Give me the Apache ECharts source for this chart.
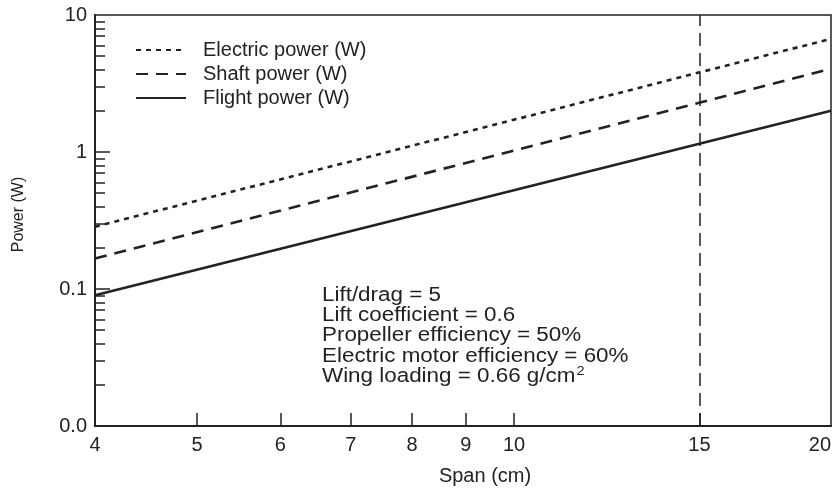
<!DOCTYPE html>
<html>
<head>
<meta charset="utf-8">
<script src="https://cdn.jsdelivr.net/npm/echarts@6/dist/echarts.min.js"></script>
<style>html,body{margin:0;padding:0;background:#fff}#c{width:839px;height:491px}</style>
</head>
<body>
<div id="c"></div>
<script>
const spans = [4, 20];
const electricPower = [0.285, 6.7];
const shaftPower = [0.167, 4.05];
const flightPower = [0.09, 2.0];
const xTickValues = [4, 5, 6, 7, 8, 9, 10, 15, 20];
const yTickValues = [0.01, 0.1, 1, 10];
const yMinorValues = [0.02,0.03,0.04,0.05,0.06,0.07,0.08,0.09,0.2,0.3,0.4,0.5,0.6,0.7,0.8,0.9,2,3,4,5,6,7,8,9];
const markerSpan = 15;
const notes = ['Lift/drag = 5', 'Lift coefficient = 0.6', 'Propeller efficiency = 50%', 'Electric motor efficiency = 60%'];
const lastNote = ['Wing loading = 0.66 g/cm', '2'];

const FONT = "'Liberation Sans', Arial, Helvetica, sans-serif";
const INK = '#222';

function pairs(ys) { return spans.map((x, i) => [x, ys[i]]); }

const chart = echarts.init(document.getElementById('c'), null, {renderer: 'canvas'});
const option = {
  backgroundColor: '#fff',
  animation: false,
  textStyle: {fontFamily: FONT, color: INK},
  grid: {left: 95, right: 8, top: 15, bottom: 63, show: true, borderColor: INK, borderWidth: 1.5, backgroundColor: 'transparent'},
  legend: {
    orient: 'vertical', left: 130, top: 35,
    itemWidth: 50, itemHeight: 14, itemGap: 4,
    itemStyle: {opacity: 0, borderWidth: 0},
    textStyle: {fontSize: 20, fontFamily: FONT, color: INK, lineHeight: 20, padding: [0, 0, 0, 12]},
    data: ['Electric power (W)', 'Shaft power (W)', 'Flight power (W)']
  },
  xAxis: {
    type: 'log', min: 4, max: 20, logBase: 10,
    name: 'Span (cm)', nameLocation: 'middle', nameGap: 40,
    nameTextStyle: {fontSize: 20, fontFamily: FONT, color: INK, padding: [0, 0, 0, 44]},
    axisLine: {show: true, lineStyle: {color: INK, width: 2}},
    axisTick: {show: true, inside: true, length: 13, customValues: xTickValues.slice(1, -1), lineStyle: {color: INK, width: 1.5}},
    axisLabel: {show: true, customValues: xTickValues, fontSize: 20, fontFamily: FONT, color: INK, margin: 9, alignMaxLabel: 'right', formatter: v => String(Math.round(v))},
    splitLine: {show: false},
    minorTick: {show: false}
  },
  yAxis: [{
    type: 'log', min: 0.01, max: 10, logBase: 10,
    name: 'Power (W)', nameLocation: 'middle', nameGap: 68,
    nameTextStyle: {fontSize: 16, fontFamily: FONT, color: INK, padding: [0, 0, 0, 12]},
    axisLine: {show: true, lineStyle: {color: INK, width: 2}},
    axisTick: {show: true, inside: true, length: 15, customValues: yTickValues.slice(1, 3), lineStyle: {color: INK, width: 1.5}},
    axisLabel: {show: true, customValues: yTickValues, fontSize: 20, fontFamily: FONT, color: INK, margin: 8,
      formatter: v => v < 0.05 ? '0.0' : (v < 0.5 ? '0.1' : String(Math.round(v)))},
    splitLine: {show: false}
  }, {
    type: 'log', min: 0.01, max: 10, logBase: 10, position: 'left',
    axisLine: {show: false},
    axisTick: {show: true, inside: true, length: 10, customValues: yMinorValues, lineStyle: {color: INK, width: 1.5}},
    axisLabel: {show: false},
    splitLine: {show: false}
  }],
  series: [{
    name: 'Electric power (W)', type: 'line', data: pairs(electricPower), showSymbol: false, symbol: 'none',
    lineStyle: {color: INK, width: 2.6, type: [5, 5]}, itemStyle: {color: INK}
  }, {
    name: 'Shaft power (W)', type: 'line', data: pairs(shaftPower), showSymbol: false, symbol: 'none',
    lineStyle: {color: INK, width: 2.6, type: [12, 8]}, itemStyle: {color: INK}
  }, {
    name: 'Flight power (W)', type: 'line', data: pairs(flightPower), showSymbol: false, symbol: 'none',
    lineStyle: {color: INK, width: 2.6, type: 'solid'}, itemStyle: {color: INK},
    markLine: {
      silent: true, symbol: 'none', label: {show: false},
      lineStyle: {color: INK, width: 1.5, type: [13, 7]},
      data: [{xAxis: markerSpan}]
    }
  }],
  graphic: [{
    type: 'text', left: 322, top: 285, scaleX: 1.12,
    style: {
      text: notes.join('\n') + '\n{m|' + lastNote[0] + '}{s|' + lastNote[1] + '}',
      font: '20px ' + FONT, fill: INK, lineHeight: 20.3,
      rich: {
        m: {fontSize: 20, fontFamily: FONT, fill: INK, color: INK, lineHeight: 20.3},
        s: {fontSize: 13, fontFamily: FONT, fill: INK, color: INK, lineHeight: 20.3, padding: [0, 0, 10, 1]}
      }
    }
  }]
};
chart.setOption(option);
</script>
</body>
</html>
